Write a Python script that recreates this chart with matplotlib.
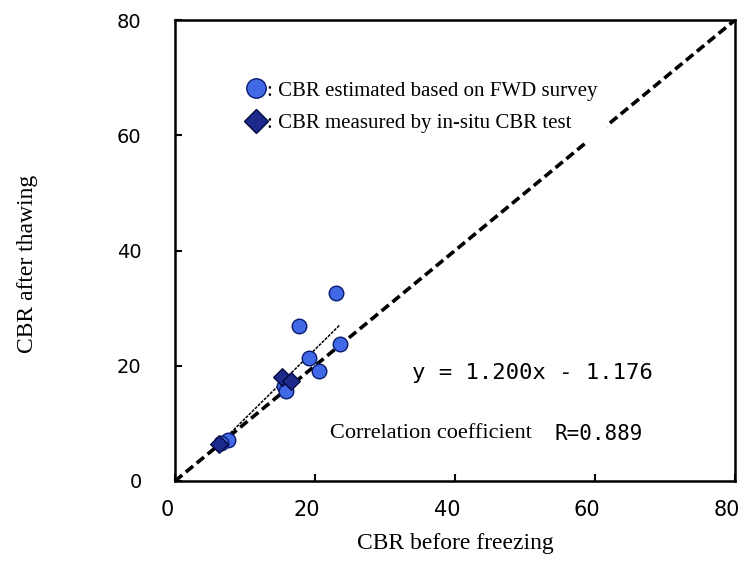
import matplotlib
matplotlib.use("Agg")
import matplotlib.pyplot as plt
import matplotlib.transforms as mtrans
import numpy as np
from matplotlib.lines import Line2D

# ---- data ----
fwd_x = [23.0, 17.7, 23.6, 19.1, 20.6, 15.5, 15.8, 7.5, 6.5]
fwd_y = [32.7, 26.9, 23.7, 21.3, 19.1, 16.4, 15.6, 7.2, 6.6]
insitu_x = [15.3, 16.5, 6.3]
insitu_y = [18.0, 17.3, 6.5]
ref_line_x = [0, 80]
ref_line_y = [0, 80]
reg_slope = 1.200
reg_intercept = -1.176
reg_x_range = [7.5, 23.5]
r_value = 0.889
ticks = [0, 20, 40, 60, 80]
tick_labels = ["0", "20", "40", "60", "80"]

serif = "Liberation Serif"
mono = "DejaVu Sans Mono"

fig = plt.figure(figsize=(7.4, 5.7), dpi=100)
ax = fig.add_axes([175/740, 1-481/570, 560/740, 461/570])
ax.set_xlim(0, 80)
ax.set_ylim(0, 80)

# 1:1 line
ax.plot(ref_line_x, ref_line_y, color="black", lw=2.6,
        linestyle=(0, (2.6, 1.3)), zorder=2)
# regression line
rx = np.array(reg_x_range)
ax.plot(rx, reg_slope*rx + reg_intercept, color="black", lw=1.1,
        linestyle=(0, (2, 0.8)), zorder=2)

circ_face = "#4169E6"
circ_edge = "#0a1a70"
dia_face = "#1c2a8c"
dia_edge = "#050a40"

ax.scatter(fwd_x, fwd_y, s=110, marker="o", facecolor=circ_face,
           edgecolor=circ_edge, linewidth=1.0, zorder=4)
ax.scatter(insitu_x, insitu_y, s=80, marker="D", facecolor=dia_face,
           edgecolor=dia_edge, linewidth=1.0, zorder=5)

for sp in ax.spines.values():
    sp.set_linewidth(1.8)
    sp.set_color("black")

ax.set_xticks(ticks)
ax.set_yticks(ticks)
ax.set_xticklabels(tick_labels, family="DejaVu Sans", fontsize=15)
ax.set_yticklabels(tick_labels, family="DejaVu Sans", fontsize=14)
ax.tick_params(axis="both", direction="in", length=5, width=1.5)
ax.tick_params(axis="x", pad=14)
ax.tick_params(axis="y", pad=24)
shift = mtrans.ScaledTranslation(-8/100, 0, fig.dpi_scale_trans)
for lab in ax.get_xticklabels():
    lab.set_transform(lab.get_transform() + shift)

ax.set_xlabel("CBR before freezing", family=serif, fontsize=17, labelpad=9)
ax.set_ylabel("CBR after thawing", family=serif, fontsize=17)
ax.yaxis.set_label_coords(-0.245, 0.47)

handles = [
    Line2D([], [], marker="o", linestyle="none", markersize=14,
           markerfacecolor=circ_face, markeredgecolor=circ_edge),
    Line2D([], [], marker="D", linestyle="none", markersize=12,
           markerfacecolor=dia_face, markeredgecolor=dia_edge),
]
leg = ax.legend(handles, [": CBR estimated based on FWD survey",
                          ": CBR measured by in-situ CBR test"],
                loc="upper left", bbox_to_anchor=(0.092, 0.908),
                prop={"family": serif, "size": 15},
                frameon=True, fancybox=False, framealpha=1.0,
                facecolor="white", edgecolor="white",
                handlelength=1.0, handletextpad=0.05, labelspacing=0.6,
                borderpad=0.4)
leg.set_zorder(6)

ax.text(33.9, 18.8, f"y = {reg_slope:.3f}x - {-reg_intercept:.3f}",
        family=mono, fontsize=16, va="center", ha="left")
ax.text(22.2, 8.2, "Correlation coefficient", family=serif, fontsize=16,
        va="center", ha="left")
ax.text(54.2, 8.2, f"R={r_value:.3f}", family=mono, fontsize=15,
        va="center", ha="left")

fig.savefig("out.png", dpi=100)
